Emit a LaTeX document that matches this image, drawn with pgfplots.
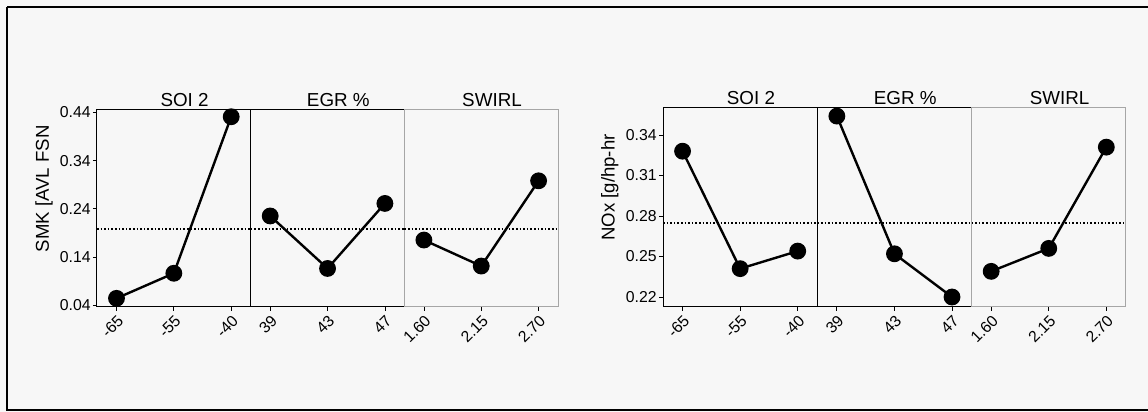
\documentclass[border=0pt]{standalone}
\usepackage{fontspec}
\setmainfont{Liberation Sans}
\usepackage{pgfplots}
\pgfplotsset{compat=1.18}

\definecolor{paper}{RGB}{247,247,247}

\pgfplotsset{
  panel/.style={
    scale only axis, anchor=south west,
    xmin=-0.34, xmax=2.34, xtick={0,1,2},
    tick pos=left, tick align=outside, major tick length=2pt,
    axis line style={black, line width=0.5pt},
    tick style={black, line width=0.4pt},
    clip=false,
    /pgf/number format/assume math mode=true,
    /pgf/number format/.cd, fixed, fixed zerofill, precision=2, /pgfplots/.cd,
    ticklabel style={font=\fontsize{7.9}{8}\selectfont},
    xticklabel style={rotate=45, anchor=north east, inner sep=1pt},
    yticklabel style={inner sep=1pt},
    every axis title shift=0pt,
    title style={at={(axis description cs:0.57,1)}, anchor=base, yshift=1.5pt,
                 font=\fontsize{9.4}{10}\selectfont},
    every axis y label/.style={at={(axis description cs:-0.345,0.6)}, rotate=90, anchor=center,
                 font=\fontsize{9.3}{10}\selectfont},
  },
  smk/.style={panel, width=76.85pt, height=98.5pt, ymin=0.036, ymax=0.445},
  nox/.style={panel, width=77.15pt, height=99.5pt, ymin=0.2126, ymax=0.360},
  inner/.style={ytick=\empty},
  last/.style={ytick=\empty, y axis line style={gray!70}},
  effect/.style={black, line width=1.2pt, mark=*, mark size=3.6pt},
  mean/.style={black, densely dotted, line width=0.8pt},
}

\begin{document}
\begin{tikzpicture}
\fill[paper] (0,0) rectangle (574pt,206pt);
\useasboundingbox (0,0) rectangle (574pt,206pt);
\draw[line width=0.9pt] (574pt,202.5pt) -- (3.5pt,202.5pt);
\draw[line width=1.3pt] (3.5pt,202.5pt) -- (3.5pt,1pt) -- (574pt,1pt);

% SMK
\begin{axis}[smk, at={(48.5pt,52.5pt)}, title={SOI 2}, ylabel={SMK [AVL FSN},
  ytick={0.04,0.14,0.24,0.34,0.44}, xticklabels={-65,-55,-40}]
  \addplot[mean] coordinates {(-0.34,0.198) (2.34,0.198)};
  \addplot[effect] coordinates {(0,0.054) (1,0.106) (2,0.431)};
\end{axis}
\begin{axis}[smk, inner, at={(125.35pt,52.5pt)}, title={EGR \%}, xticklabels={39,43,47}]
  \addplot[mean] coordinates {(-0.34,0.198) (2.34,0.198)};
  \addplot[effect] coordinates {(0,0.225) (1,0.116) (2,0.251)};
\end{axis}
\begin{axis}[smk, last, at={(202.2pt,52.5pt)}, title={SWIRL}, xticklabels={1.60,2.15,2.70}]
  \addplot[mean] coordinates {(-0.34,0.198) (2.34,0.198)};
  \addplot[effect] coordinates {(0,0.175) (1,0.121) (2,0.298)};
\end{axis}

% NOx
\begin{axis}[nox, at={(331.5pt,52.5pt)}, title={SOI 2}, ylabel={NOx [g/hp-hr},
  ytick={0.22,0.25,0.28,0.31,0.34}, xticklabels={-65,-55,-40}]
  \addplot[mean] coordinates {(-0.34,0.275) (2.34,0.275)};
  \addplot[effect] coordinates {(0,0.328) (1,0.241) (2,0.254)};
\end{axis}
\begin{axis}[nox, inner, at={(408.65pt,52.5pt)}, title={EGR \%}, xticklabels={39,43,47}]
  \addplot[mean] coordinates {(-0.34,0.275) (2.34,0.275)};
  \addplot[effect] coordinates {(0,0.354) (1,0.252) (2,0.220)};
\end{axis}
\begin{axis}[nox, last, at={(485.8pt,52.5pt)}, title={SWIRL}, xticklabels={1.60,2.15,2.70}]
  \addplot[mean] coordinates {(-0.34,0.275) (2.34,0.275)};
  \addplot[effect] coordinates {(0,0.239) (1,0.256) (2,0.331)};
\end{axis}
\end{tikzpicture}
\end{document}
